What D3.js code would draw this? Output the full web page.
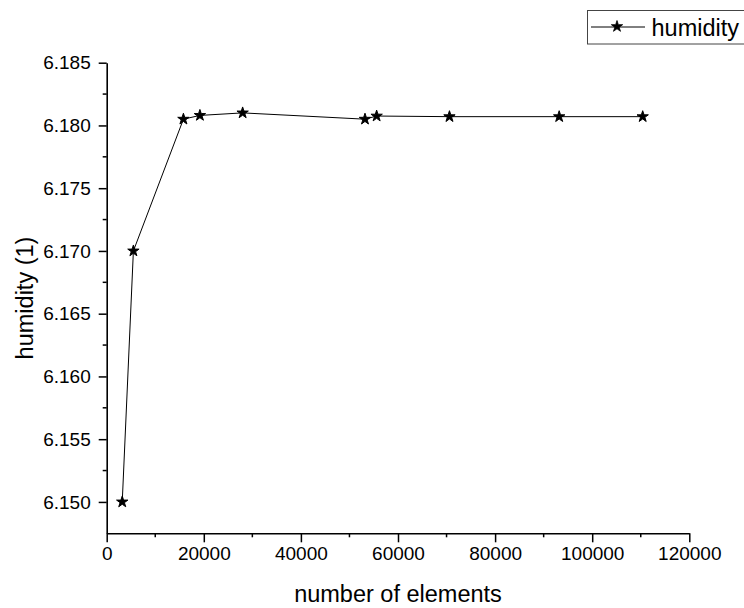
<!DOCTYPE html>
<html>
<head>
<meta charset="utf-8">
<script src="https://cdn.jsdelivr.net/npm/d3@7"></script>
<style>
  html, body { margin: 0; padding: 0; background: #fff; }
  svg { display: block; font-family: "Liberation Sans", Arial, sans-serif; }
</style>
</head>
<body>
<svg id="chart" width="744" height="608"></svg>
<script>
// Mesh study: number of elements vs. humidity
const elements = [3200, 5500, 15800, 19200, 28000, 53200, 55600, 70600, 93200, 110400];
const humidity = [6.1500, 6.1700, 6.1805, 6.1808, 6.1810, 6.1805, 6.18075, 6.1807, 6.1807, 6.1807];
const xTicks = [0, 20000, 40000, 60000, 80000, 100000, 120000];
const yTicks = [6.150, 6.155, 6.160, 6.165, 6.170, 6.175, 6.180, 6.185];
const seriesName = "humidity";

const svg = d3.select("#chart");
const plotL = 106.7, plotR = 689.3, plotT = 62.7, plotB = 533.3;

const x = d3.scaleLinear().domain([0, 120000]).range([plotL, plotR]);
const y = d3.scaleLinear().domain([6.1475, 6.185]).range([plotB, plotT]);

// x axis: major ticks + minor ticks between them
const xMinor = d3.range(10000, 120000, 20000);
const gx = svg.append("g").attr("transform", `translate(0,${plotB})`);
gx.call(d3.axisBottom(x).tickValues(xTicks).tickFormat(d3.format("d"))
    .tickSize(9).tickPadding(4).tickSizeOuter(0));
gx.append("g").selectAll("line").data(xMinor).join("line")
  .attr("x1", d => x(d)).attr("x2", d => x(d)).attr("y1", 0).attr("y2", 4)
  .attr("stroke", "#000").attr("stroke-width", 1.5);

// y axis
const yMinor = d3.range(6.1525, 6.185, 0.005);
const gy = svg.append("g").attr("transform", `translate(${plotL},0)`);
gy.call(d3.axisLeft(y).tickValues(yTicks).tickFormat(d3.format(".3f"))
    .tickSize(8).tickPadding(8).tickSizeOuter(0));
gy.append("g").selectAll("line").data(yMinor).join("line")
  .attr("y1", d => y(d)).attr("y2", d => y(d)).attr("x1", 0).attr("x2", -4)
  .attr("stroke", "#000").attr("stroke-width", 1.5);

svg.selectAll(".domain").attr("stroke", "#000").attr("stroke-width", 1.6);
svg.selectAll(".tick line").attr("stroke", "#000").attr("stroke-width", 1.5);
svg.selectAll(".tick text").attr("font-size", 19).attr("fill", "#000")
  .attr("font-family", "'Liberation Sans', Arial, sans-serif");

// axis titles
svg.append("text").attr("x", (plotL + plotR) / 2).attr("y", 601.5)
  .attr("text-anchor", "middle").attr("font-size", 23.5).text("number of elements");
svg.append("text").attr("transform", `translate(32.5,${(plotT + plotB) / 2}) rotate(-90)`)
  .attr("text-anchor", "middle").attr("font-size", 23.5).text("humidity (1)");

// data line and star markers
const pts = elements.map((e, i) => [e, humidity[i]]);
svg.append("path").datum(pts)
  .attr("fill", "none").attr("stroke", "#000").attr("stroke-width", 1)
  .attr("d", d3.line().x(d => x(d[0])).y(d => y(d[1])));
const star = d3.symbol().type(d3.symbolStar).size(40);
svg.append("g").selectAll("path").data(pts).join("path")
  .attr("transform", d => `translate(${x(d[0])},${y(d[1])})`)
  .attr("d", star).attr("fill", "#000")
  .attr("stroke", "#000").attr("stroke-width", 1).attr("stroke-linejoin", "round");

// legend
const lg = svg.append("g");
lg.append("rect").attr("x", 587.5).attr("y", 10.5).attr("width", 170).attr("height", 33.5)
  .attr("fill", "#fff").attr("stroke", "#444").attr("stroke-width", 1);
lg.append("line").attr("x1", 591).attr("x2", 645).attr("y1", 27).attr("y2", 27)
  .attr("stroke", "#000").attr("stroke-width", 1);
lg.append("path").attr("transform", "translate(617,26.5)").attr("d", star).attr("fill", "#000")
  .attr("stroke", "#000").attr("stroke-width", 0.8).attr("stroke-linejoin", "round");
lg.append("text").attr("x", 651.5).attr("y", 35.5).attr("font-size", 23.5).text(seriesName);
</script>
</body>
</html>
